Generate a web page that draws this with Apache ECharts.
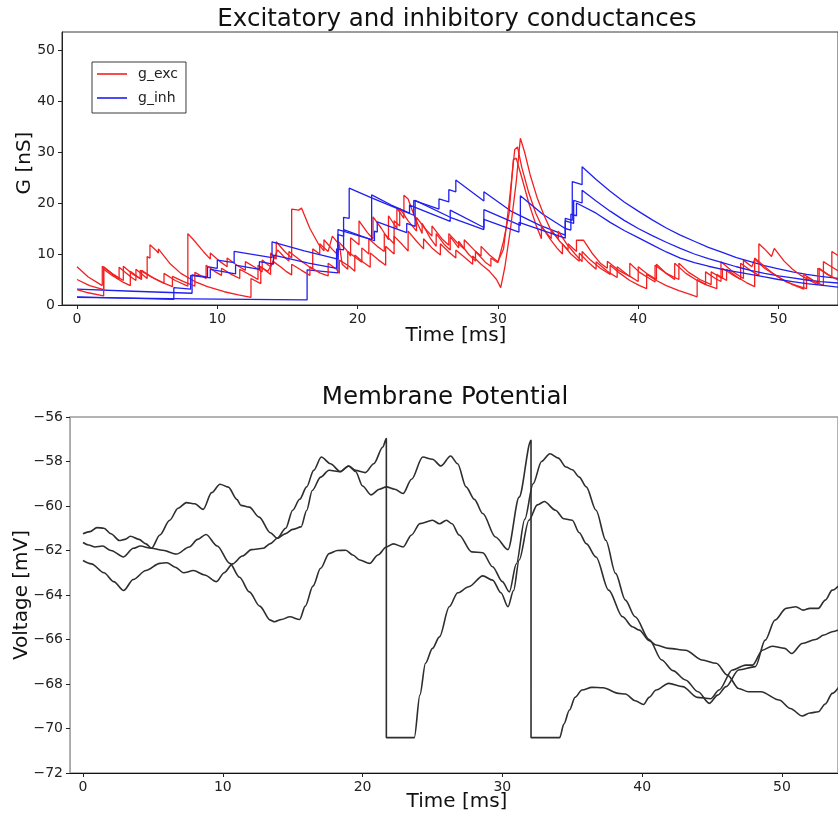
<!DOCTYPE html>
<html>
<head>
<meta charset="utf-8">
<script src="https://cdn.jsdelivr.net/npm/echarts@6/dist/echarts.min.js"></script>
<style>
  html, body { margin: 0; padding: 0; background: #ffffff; }
  #chart { width: 838px; height: 816px; }
</style>
</head>
<body>
<div id="chart"></div>
<script>
// ---- tick labels ----
const timeTicks = [0, 10, 20, 30, 40, 50];
const condTicks = [0, 10, 20, 30, 40, 50];
const voltTicks = [-72, -70, -68, -66, -64, -62, -60, -58, -56];

// ---- excitatory conductance traces [time ms, G nS] ----
const gExc1 = [[0,7.5],[0.8,5.5],[1.8,3.8],[1.8,7.6],[2.4,6.3],[3.0,5.0],[3.0,7.4],[3.8,5.6],[4.2,4.8],[4.2,7.0],[5.0,5.2],[5.0,9.5],[5.2,9.2],[5.2,11.8],[5.6,10.8],[5.8,10.2],[5.8,11.0],[6.6,8.2],[7.4,6.2],[8.4,4.6],[9.3,3.6],[10.5,2.6],[11.5,2.0],[12.4,1.5],[12.4,5.2],[13.1,4.2],[13.1,7.5],[13.8,6.0],[13.8,10.2],[14.2,9.0],[14.2,12.4],[14.8,10.5],[15.3,9.2],[15.3,18.8],[15.8,18.6],[16.0,19.0],[16.6,15.0],[17.2,12.0],[17.6,10.6],[17.6,12.8],[18.2,10.9],[18.6,9.8],[18.6,12.5],[19.2,10.8],[19.5,9.6],[19.5,13.2],[20.1,11.8],[20.1,16.5],[20.7,14.2],[21.1,13.0],[21.1,17.3],[21.7,15.0],[22.2,12.8],[22.2,17.5],[22.8,15.0],[22.8,19.0],[23.3,17.0],[23.3,21.5],[23.6,20.8],[24.1,17.0],[24.6,14.0],[24.6,16.0],[25.2,13.0],[25.6,11.5],[25.6,14.0],[26.2,11.8],[26.6,10.8],[26.6,13.4],[27.2,11.2],[27.2,12.5],[27.9,10.0],[28.4,8.6],[28.4,10.5],[29.1,8.4],[29.5,7.6],[29.5,9.2],[30.0,8.3],[30.4,12.5],[30.8,18.0],[31.1,28.5],[31.3,28.8],[31.7,25.0],[32.2,20.0],[32.7,15.8],[33.1,13.0],[33.1,15.5],[33.7,13.0],[34.2,11.2],[34.6,10.0],[34.6,12.0],[35.2,10.0],[35.8,8.6],[35.8,10.2],[36.4,8.5],[37.0,7.0],[37.0,8.5],[37.8,6.6],[38.5,5.4],[38.5,7.5],[39.3,5.8],[40.0,4.6],[40.0,7.5],[40.7,6.0],[41.3,5.0],[41.3,8.0],[42.0,6.2],[42.6,5.0],[42.6,8.2],[43.4,6.2],[44.2,4.8],[44.8,4.0],[44.8,6.5],[45.5,5.2],[45.9,4.6],[45.9,8.5],[46.7,6.6],[47.5,5.2],[47.5,8.8],[48.1,7.5],[48.3,9.0],[49.0,7.2],[49.8,5.8],[50.5,4.6],[51.3,3.8],[52.0,3.2],[52.0,5.5],[52.6,4.6],[53.2,3.8],[53.2,8.5],[53.6,7.8],[54.3,6.6]];
const gExc2 = [[0,5.0],[0.9,3.8],[1.9,3.0],[1.9,7.5],[2.6,6.0],[3.3,4.8],[3.3,7.6],[4.0,6.0],[4.6,5.0],[4.6,6.8],[5.5,5.2],[6.2,4.3],[6.2,6.2],[7.0,4.8],[7.9,3.7],[7.9,14.0],[8.3,12.8],[9.0,10.5],[9.5,9.0],[9.5,10.2],[10.2,8.5],[10.7,7.5],[10.7,9.2],[11.4,7.8],[12.0,6.8],[12.0,8.5],[12.8,7.2],[13.2,6.5],[13.2,8.8],[13.8,7.5],[14.3,10.8],[14.7,9.6],[15.1,8.6],[15.1,10.5],[15.8,9.0],[16.4,7.8],[16.8,7.0],[16.8,11.0],[17.3,10.0],[17.3,12.0],[17.9,10.5],[18.2,13.5],[18.7,11.8],[18.9,8.0],[19.3,7.0],[19.3,10.5],[19.9,9.2],[20.3,8.4],[20.3,11.2],[20.8,10.0],[20.8,13.0],[21.4,11.5],[21.9,10.5],[21.9,14.0],[22.6,12.0],[22.6,16.5],[23.0,15.5],[23.0,19.0],[23.6,16.5],[24.2,14.5],[24.2,17.2],[24.8,15.0],[25.3,13.5],[25.3,15.5],[26.0,13.0],[26.5,11.7],[26.5,14.0],[27.1,12.2],[27.6,11.0],[27.6,12.8],[28.3,10.8],[28.8,9.6],[28.8,11.5],[29.4,9.8],[30.0,8.5],[30.4,11.0],[30.8,20.0],[31.2,30.5],[31.4,31.0],[31.7,27.0],[32.2,22.0],[32.7,18.0],[33.2,15.0],[33.8,13.0],[33.8,14.8],[34.4,12.5],[35.0,10.8],[35.0,12.0],[35.6,10.5],[35.6,12.7],[36.1,12.7],[36.7,10.2],[37.3,8.2],[37.8,7.2],[37.8,8.6],[38.6,6.8],[39.4,5.6],[39.4,8.2],[40.1,6.4],[40.8,5.2],[41.2,4.5],[41.2,7.8],[42.0,6.2],[42.9,5.0],[42.9,8.2],[43.6,6.4],[44.4,5.0],[45.2,4.0],[45.2,6.5],[46.0,5.2],[46.0,7.2],[46.8,5.8],[47.3,5.0],[47.3,8.2],[48.0,6.8],[48.6,5.8],[48.6,12.0],[49.0,11.0],[49.5,9.5],[49.7,11.1],[50.4,8.6],[51.0,7.0],[51.6,5.8],[52.3,4.7],[52.8,4.0],[52.8,7.2],[53.5,6.0],[54.3,4.8]];
const gExc3 = [[0,3.0],[0.8,2.4],[1.9,1.8],[1.9,7.0],[2.5,5.8],[3.2,4.6],[3.8,3.8],[3.8,6.6],[4.5,5.2],[4.5,6.8],[5.3,5.5],[6.1,4.4],[6.8,3.6],[6.8,5.6],[7.6,4.6],[8.4,3.7],[8.4,6.4],[9.2,5.2],[9.2,7.8],[9.8,6.6],[10.3,5.8],[10.3,7.2],[11.0,6.0],[11.6,5.2],[11.6,7.0],[12.4,5.8],[12.9,5.0],[12.9,7.8],[13.6,6.6],[14.0,8.5],[14.5,7.5],[14.9,6.6],[15.3,5.9],[15.3,8.0],[16.0,6.8],[16.6,5.8],[16.6,7.5],[17.3,6.3],[17.9,5.7],[17.9,8.2],[18.5,7.0],[18.7,6.2],[18.7,8.8],[19.4,7.6],[19.8,6.6],[19.8,9.8],[20.4,8.4],[20.9,7.4],[20.9,10.2],[21.5,8.8],[22.0,7.8],[22.0,11.5],[22.6,10.0],[22.6,13.5],[23.2,11.8],[23.6,10.6],[23.6,14.5],[24.2,12.5],[24.7,11.0],[24.7,13.0],[25.3,11.2],[25.9,9.8],[25.9,12.0],[26.5,10.4],[27.0,9.2],[27.0,10.8],[27.6,9.4],[28.2,8.0],[28.2,9.6],[28.8,8.0],[29.4,6.6],[29.9,5.0],[30.2,3.4],[30.5,7.5],[30.9,15.0],[31.3,24.0],[31.6,32.7],[31.9,30.0],[32.3,25.5],[32.8,21.0],[33.3,17.5],[33.8,14.5],[34.3,13.0],[34.3,14.5],[34.9,12.0],[35.5,10.0],[36.0,8.5],[36.0,10.5],[36.6,8.8],[37.3,7.2],[38.0,6.0],[38.0,7.8],[38.7,6.2],[39.4,4.8],[40.1,3.8],[40.6,3.2],[40.6,6.0],[41.3,4.8],[42.0,3.8],[42.9,2.8],[43.6,2.2],[44.2,1.6],[44.2,5.0],[44.9,3.9],[45.6,3.2],[45.6,6.0],[46.3,4.8],[46.3,7.0],[47.0,5.6],[47.7,4.4],[48.3,3.6],[48.3,9.2],[48.9,7.8],[49.6,6.2],[50.3,5.0],[51.0,4.0],[51.8,3.1],[51.8,6.0],[52.5,4.8],[52.9,4.2],[52.9,7.2],[53.5,6.0],[53.8,5.5],[53.8,10.5],[54.3,9.6]];

// ---- inhibitory conductance traces [time ms, G nS] ----
const gInh1 = [[0,1.5],[8.0,1.2],[16.4,1.0],[16.4,6.9],[18.6,6.3],[18.6,13.8],[19.0,13.5],[19.0,17.2],[19.4,17.0],[19.4,22.9],[21.0,21.0],[22.5,19.3],[24.0,17.6],[24.0,20.5],[25.8,18.8],[25.8,20.8],[26.5,20.2],[26.5,22.6],[27.0,22.2],[27.0,24.5],[29.0,20.4],[29.0,22.2],[31.0,18.3],[33.0,15.6],[34.8,13.7],[34.8,17.0],[35.3,16.6],[35.3,24.2],[36.0,23.6],[36.0,27.1],[37,24.6],[38,22.3],[39,20.2],[40,18.4],[41,16.7],[42,15.1],[43,13.7],[44,12.5],[45,11.3],[46,10.3],[47,9.3],[48,8.5],[49,7.7],[50,7.1],[51,6.5],[52,6.0],[53,5.6],[54.3,5.2]];
const gInh2 = [[0,3.1],[4.0,2.7],[8.2,2.3],[8.2,5.9],[9.3,5.5],[9.3,7.5],[10.0,7.2],[10.0,8.8],[11.2,8.3],[11.2,10.5],[13.9,9.3],[13.9,12.4],[16.2,10.6],[18.6,9.0],[18.6,14.8],[21.0,12.8],[21.0,21.6],[22.4,19.6],[23.7,18.0],[23.7,19.6],[26.6,16.4],[26.6,18.6],[29.0,15.2],[29.0,18.7],[31.6,15.6],[31.6,21.4],[33.2,17.8],[34.8,15.0],[34.8,16.5],[35.4,16.0],[35.4,20.5],[36.0,20.0],[36.0,22.5],[37,20.4],[38,18.4],[39,16.6],[40,15.0],[41,13.6],[42,12.3],[43,11.1],[44,10.0],[45,9.1],[46,8.3],[47,7.5],[48,6.8],[49,6.2],[50,5.7],[51,5.3],[52,4.9],[53,4.6],[54.3,4.3]];
const gInh3 = [[0,1.6],[6.9,1.1],[6.9,3.4],[8.1,3.1],[8.1,5.8],[9.5,5.3],[9.5,7.0],[11.3,6.1],[11.3,7.8],[13.0,7.0],[13.0,8.5],[14.0,8.0],[14.0,9.8],[16.5,8.2],[18.5,7.2],[18.5,11.0],[19.0,10.8],[19.0,14.8],[21.2,12.6],[21.2,14.5],[21.4,14.3],[21.4,16.3],[23.5,14.2],[23.5,16.0],[24.1,15.4],[24.1,20.5],[26.6,17.2],[29.0,14.8],[29.0,16.8],[31.5,14.3],[31.5,16.2],[34.8,13.1],[34.8,15.0],[35.2,14.7],[35.2,17.8],[35.6,17.5],[35.6,20.0],[37,18.0],[38,16.2],[39,14.6],[40,13.2],[41,11.8],[42,10.4],[43,9.2],[44,8.3],[45,7.6],[46,7.0],[47,6.5],[48,6.0],[49,5.5],[50,5.0],[51,4.6],[52,4.2],[53,3.9],[54.3,3.5]];

// ---- membrane potential traces [time ms, V mV] ----
const vm1 = [[0,-61.25],[0.5,-61.15],[1.0,-60.97],[1.5,-61.0],[2.0,-61.25],[2.6,-61.55],[3.0,-61.5],[3.4,-61.36],[4.0,-61.5],[4.5,-61.7],[4.9,-61.9],[5.5,-61.3],[6.2,-60.64],[6.8,-60.1],[7.4,-59.85],[8.0,-59.9],[8.6,-60.15],[9.2,-59.4],[9.8,-59.02],[10.4,-59.15],[11.0,-59.7],[11.3,-59.97],[11.9,-60.05],[12.6,-60.5],[13.4,-61.2],[13.9,-61.45],[14.5,-61.0],[15.0,-60.19],[15.5,-59.7],[16.0,-59.14],[16.5,-58.4],[17.05,-57.8],[17.7,-58.1],[18.4,-58.45],[19.0,-58.2],[19.5,-58.45],[20.0,-59.1],[20.6,-59.5],[21.2,-59.25],[21.7,-59.14],[22.3,-59.25],[22.9,-59.44],[23.5,-58.8],[24.3,-57.8],[25.0,-57.9],[25.6,-58.2],[26.3,-57.75],[26.8,-58.1],[27.4,-59.14],[28.0,-59.7],[28.6,-60.34],[29.5,-61.39],[30.4,-61.96],[31.2,-59.6],[32.05,-57.05],[32.05,-70.41],[34.1,-70.41],[34.4,-69.8],[34.8,-69.17],[35.2,-68.6],[35.7,-68.27],[36.4,-68.15],[37.2,-68.17],[38.3,-68.42],[38.8,-68.45],[39.5,-68.75],[40.1,-68.92],[40.5,-68.6],[41.0,-68.27],[41.9,-67.97],[42.9,-68.12],[43.95,-68.6],[44.9,-68.66],[45.5,-68.27],[46.45,-67.37],[47.4,-67.15],[47.9,-67.15],[48.6,-66.48],[49.3,-66.3],[50.2,-66.4],[50.7,-66.63],[51.45,-66.18],[52.4,-66.0],[53.0,-65.8],[53.6,-65.65],[54.3,-65.5]];
const vm2 = [[0,-62.45],[0.6,-62.6],[1.5,-63.0],[2.2,-63.4],[2.9,-63.8],[3.6,-63.3],[4.5,-62.9],[5.5,-62.58],[6.0,-62.55],[6.6,-62.75],[7.2,-63.0],[7.9,-62.9],[8.7,-63.1],[9.55,-63.4],[10.1,-63.0],[10.7,-62.6],[11.4,-62.25],[12.05,-61.96],[12.9,-61.9],[13.4,-61.69],[13.9,-61.45],[14.5,-61.24],[15.0,-61.05],[15.6,-60.94],[16.0,-60.2],[16.4,-59.3],[17.0,-58.7],[17.6,-58.39],[18.4,-58.46],[19.0,-58.2],[19.5,-58.4],[20.2,-58.5],[20.8,-58.1],[21.45,-57.35],[21.7,-56.97],[21.7,-70.41],[23.7,-70.41],[24.1,-68.5],[24.5,-67.07],[25.0,-66.4],[25.5,-65.88],[26.2,-64.53],[26.8,-63.9],[27.6,-63.63],[28.6,-63.14],[29.3,-63.33],[29.9,-63.9],[30.4,-64.53],[30.8,-63.8],[31.2,-62.43],[31.9,-60.64],[32.5,-59.95],[33.0,-59.8],[33.8,-60.19],[34.4,-60.57],[35.0,-60.64],[35.5,-61.2],[36.0,-61.69],[36.7,-62.29],[37.6,-63.78],[38.6,-64.98],[39.3,-65.43],[39.8,-65.58],[40.5,-66.05],[41.0,-66.25],[41.9,-66.4],[43.1,-66.48],[44.3,-66.92],[45.3,-67.07],[46.1,-67.6],[46.9,-68.2],[47.6,-68.35],[48.5,-68.35],[49.8,-68.72],[50.6,-69.1],[51.45,-69.44],[52.0,-69.3],[52.6,-69.25],[53.1,-68.9],[53.6,-68.42],[54.3,-67.9]];
const vm3 = [[0,-61.64],[0.4,-61.75],[0.86,-61.84],[1.4,-61.8],[2.0,-62.0],[2.9,-62.29],[3.6,-61.9],[4.1,-61.8],[4.9,-61.9],[5.7,-61.99],[6.7,-62.16],[7.6,-61.84],[8.2,-61.5],[8.8,-61.28],[9.6,-61.8],[10.5,-62.58],[11.2,-63.2],[11.9,-63.86],[12.64,-64.5],[13.4,-65.13],[13.7,-65.2],[14.2,-65.1],[14.8,-64.98],[15.5,-65.1],[15.9,-64.5],[16.45,-63.6],[17.0,-62.8],[17.6,-62.14],[18.2,-62.0],[18.8,-61.99],[19.3,-62.2],[19.8,-62.43],[20.5,-62.58],[21.1,-62.2],[21.7,-61.84],[22.2,-61.7],[22.9,-61.84],[23.5,-61.3],[24.1,-60.79],[25.0,-60.64],[25.5,-60.8],[26.0,-60.64],[26.4,-60.8],[26.9,-61.3],[27.8,-62.06],[28.6,-62.1],[29.3,-62.73],[30.0,-63.4],[30.5,-63.86],[31.0,-62.6],[31.6,-60.6],[32.2,-59.0],[32.8,-58.0],[33.4,-57.65],[34.0,-57.85],[34.55,-58.25],[35.0,-58.37],[35.5,-58.7],[36.0,-59.14],[36.7,-60.19],[37.4,-61.54],[38.1,-63.03],[38.8,-64.23],[39.5,-64.98],[40.5,-66.0],[41.4,-66.92],[42.2,-67.4],[43.1,-67.82],[44.0,-68.35],[44.8,-68.87],[45.4,-68.5],[46.0,-68.12],[46.9,-67.37],[48.1,-67.22],[48.8,-66.03],[49.5,-65.13],[50.3,-64.6],[51.0,-64.53],[51.5,-64.68],[52.0,-64.6],[52.6,-64.6],[53.1,-64.23],[53.6,-63.78],[54.3,-63.4]];

const FONT = 'DejaVu Sans';
const minus = v => String(v).replace('-', '\u2212');

function trace(name, data, color, width, xi, yi, smooth) {
  return {
    type: 'line', name: name, data: data,
    xAxisIndex: xi, yAxisIndex: yi,
    showSymbol: false, symbol: 'none', clip: true, animation: false,
    smooth: smooth || false, smoothMonotone: smooth ? 'x' : undefined,
    itemStyle: { color: color },
    lineStyle: { color: color, width: width }
  };
}

function valueAxis(gridIndex, min, max, ticks, extra) {
  return Object.assign({
    type: 'value', gridIndex: gridIndex, min: min, max: max,
    splitLine: { show: false },
    axisLine: { show: true, onZero: false, lineStyle: { color: '#222', width: 1 } },
    axisTick: { show: true, length: 4, customValues: ticks, lineStyle: { color: '#222' } },
    axisLabel: { customValues: ticks, formatter: minus, color: '#222', fontFamily: FONT, fontSize: 14, margin: 7 }
  }, extra || {});
}

const chart = echarts.init(document.getElementById('chart'), null, { renderer: 'canvas' });

const series = [
  trace('g_exc', gExc1, '#f42020', 1.3, 0, 0),
  trace('g_inh', gInh1, '#2020f0', 1.3, 0, 0),
  trace('g_exc', gExc2, '#f42020', 1.3, 0, 0),
  trace('g_inh', gInh2, '#2020f0', 1.3, 0, 0),
  trace('g_exc', gExc3, '#f42020', 1.3, 0, 0),
  trace('g_inh', gInh3, '#2020f0', 1.3, 0, 0),
  trace('Vm', vm1, '#2e2e2e', 1.6, 1, 1, 0.3),
  trace('Vm', vm2, '#2e2e2e', 1.6, 1, 1, 0.3),
  trace('Vm', vm3, '#2e2e2e', 1.6, 1, 1, 0.3)
];

chart.setOption({
  animation: false,
  backgroundColor: '#ffffff',
  grid: [
    { left: 62, top: 32, width: 776, height: 273, show: true, borderColor: '#3a3a3a', borderWidth: 1, backgroundColor: 'transparent' },
    { left: 70, top: 417, width: 768, height: 356, show: true, borderColor: '#9a9a9a', borderWidth: 1.5, backgroundColor: 'transparent' }
  ],
  xAxis: [
    valueAxis(0, -1.07, 54.24, timeTicks),
    valueAxis(1, -0.93, 54.01, timeTicks, {
      axisLine: { show: true, onZero: false, lineStyle: { color: '#111', width: 1.2 } }
    })
  ],
  yAxis: [
    valueAxis(0, 0, 53.53, condTicks),
    valueAxis(1, -72, -56, voltTicks, {
      axisLine: { show: true, onZero: false, lineStyle: { color: '#aaaaaa', width: 1 } }
    })
  ],
  legend: {
    data: ['g_exc', 'g_inh'],
    orient: 'vertical',
    left: 92, top: 62,
    icon: 'rect', itemWidth: 30, itemHeight: 1.6, itemGap: 10,
    padding: [5, 8, 8, 5],
    backgroundColor: '#ffffff',
    borderColor: '#3a3a3a', borderWidth: 1, borderRadius: 0,
    textStyle: { fontFamily: FONT, fontSize: 14, color: '#222', padding: [0, 0, 0, 6] },
    selectedMode: false
  },
  graphic: [
    { type: 'text', x: 457, y: 20, style: { text: 'Excitatory and inhibitory conductances', font: '24.5px "DejaVu Sans"', fill: '#111', align: 'center', verticalAlign: 'middle' } },
    { type: 'text', x: 456, y: 336, style: { text: 'Time [ms]', font: '20px "DejaVu Sans"', fill: '#111', align: 'center', verticalAlign: 'middle' } },
    { type: 'text', x: 25, y: 163, rotation: Math.PI / 2, style: { text: 'G [nS]', font: '20px "DejaVu Sans"', fill: '#111', align: 'center', verticalAlign: 'middle' } },
    { type: 'text', x: 445, y: 398, style: { text: 'Membrane Potential', font: '24.5px "DejaVu Sans"', fill: '#111', align: 'center', verticalAlign: 'middle' } },
    { type: 'text', x: 457, y: 802, style: { text: 'Time [ms]', font: '20px "DejaVu Sans"', fill: '#111', align: 'center', verticalAlign: 'middle' } },
    { type: 'text', x: 22, y: 595, rotation: Math.PI / 2, style: { text: 'Voltage [mV]', font: '20px "DejaVu Sans"', fill: '#111', align: 'center', verticalAlign: 'middle' } }
  ],
  series: series
});
</script>
</body>
</html>
